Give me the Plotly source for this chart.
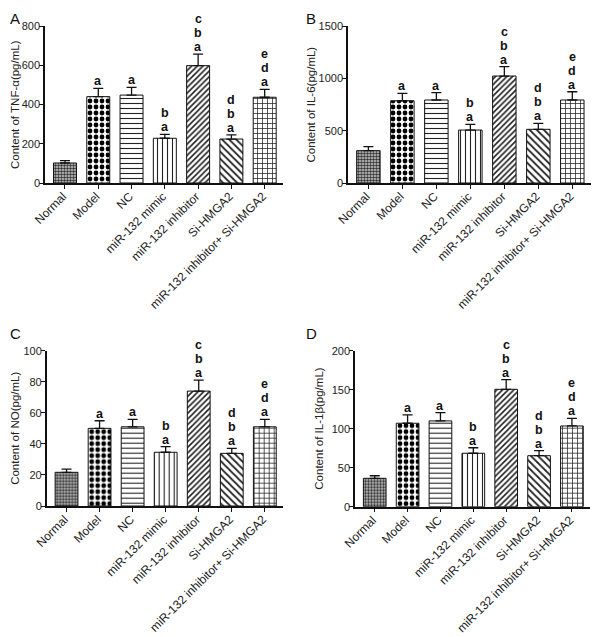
import plotly.graph_objects as go

categories = ["Normal", "Model", "NC", "miR-132 mimic", "miR-132 inhibitor",
              "Si-HMGA2", "miR-132 inhibitor+ Si-HMGA2"]

tnf_mean = [102, 440, 448, 228, 598, 224, 437]
tnf_err = [114, 482, 487, 248, 657, 245, 477]
il6_mean = [309, 786, 793, 506, 1022, 513, 793]
il6_err = [347, 857, 863, 561, 1111, 570, 872]
no_mean = [21.7, 50, 51, 34.6, 74, 33.9, 51]
no_err = [23.8, 54.9, 55.8, 38.2, 81, 37.1, 55.8]
il1b_mean = [36.4, 107, 110, 68.5, 150.5, 65.4, 103.5]
il1b_err = [39.7, 117.6, 120.5, 75.6, 163, 71.8, 113.3]

sig_letters = [[], ["a"], ["a"], ["a", "b"], ["a", "b", "c"], ["a", "b", "d"], ["a", "d", "e"]]

panels = [
    ("A", tnf_mean, tnf_err, "Content of TNF-α(pg/mL)", [0, 800], 200),
    ("B", il6_mean, il6_err, "Content of IL-6(pg/mL)", [0, 1500], 500),
    ("C", no_mean, no_err, "Content of NO(pg/mL)", [0, 100], 20),
    ("D", il1b_mean, il1b_err, "Content of IL-1β(pg/mL)", [0, 200], 50),
]

W, H = 600, 637
OFF = 8  # default page body margin shifts the figure by this many pixels


def fx(x):
    return (x - OFF) / W


def fy(y):
    return 1 - (y - OFF) / H


# plot-area boxes in screen pixels (x0, x1, ytop, ybottom)
boxes = [(45, 283, 26, 183), (348, 591, 26, 183), (46.7, 283, 350.7, 506), (355, 590, 350.7, 506.7)]
# panel letters: (figure-px x of left edge, screen-y center or None for top)
letter_pos = [(0, None), (296, None), (0, 333), (296, 333)]
ytitle_fig_x = [7.5, 303, 7.5, 311]

pat_shape = [".", ".", "-", "|", "/", "\\", "+"]
pat_size = [3, 6, 5, 5, 4, 5, 5]
pat_solid = [0.55, 0.5, 0.22, 0.22, 0.4, 0.35, 0.28]
pat_fg = ["#333333", "#000000", "#222222", "#222222", "#222222", "#222222", "#222222"]
pat_bg = ["#cfcfcf", "#ffffff", "#ffffff", "#ffffff", "#ffffff", "#ffffff", "#ffffff"]

fig = go.Figure()
FONT = "Liberation Sans, Arial, sans-serif"

for i, (lab, mean, err, title, rng, dt) in enumerate(panels):
    xa = "x" if i == 0 else f"x{i+1}"
    ya = "y" if i == 0 else f"y{i+1}"
    x0, x1, yt, yb = boxes[i]
    up = [e - m for m, e in zip(mean, err)]
    fig.add_trace(go.Bar(
        x=categories, y=mean, xaxis=xa, yaxis=ya, width=0.69,
        marker=dict(color="white",
                    line=dict(color="#111", width=1),
                    pattern=dict(shape=pat_shape, size=pat_size, solidity=pat_solid,
                                 fgcolor=pat_fg, bgcolor=pat_bg, fillmode="replace")),
        error_y=dict(type="data", symmetric=False, array=up,
                     arrayminus=[0] * 7, color="#111", thickness=1.3, width=5),
        showlegend=False, hoverinfo="skip"))
    key = "" if i == 0 else str(i + 1)
    fig.layout["xaxis" + key] = dict(
        domain=[fx(x0), fx(x1)], anchor=ya, range=[-0.6, 6.55], automargin=False,
        showline=True, linecolor="#111", linewidth=1.5, ticks="outside",
        ticklen=4, tickcolor="#111", tickangle=-45, showgrid=False,
        ticklabelstandoff=-4, ticklabelshift=-2,
        tickfont=dict(family=FONT, size=12, color="#222"), zeroline=False,
        categoryorder="array", categoryarray=categories)
    fig.layout["yaxis" + key] = dict(
        domain=[fy(yb), fy(yt)], anchor=xa, range=rng, dtick=dt, automargin=False,
        showline=True, linecolor="#111", linewidth=1.5, ticks="outside",
        ticklen=4, tickcolor="#111", showgrid=False, zeroline=False,
        ticklabelstandoff=-3,
        tickfont=dict(family=FONT, size=11, color="#222"))
    # y-axis title
    fig.add_annotation(x=ytitle_fig_x[i] / W, y=fy((yt + yb) / 2), xref="paper", yref="paper",
                       text=title, textangle=-90, showarrow=False,
                       xanchor="center", yanchor="middle",
                       font=dict(family=FONT, size=11.5, color="#222"))
    # significance letters
    for j, lets in enumerate(sig_letters):
        for k, L in enumerate(lets):
            fig.add_annotation(x=categories[j], y=err[j], xref=xa, yref=ya,
                               text=f"<b>{L}</b>", showarrow=False,
                               yanchor="bottom", yshift=-2 + 14 * k,
                               font=dict(family=FONT, size=12.5, color="#111"))
    lx, ly = letter_pos[i]
    if ly is None:
        fig.add_annotation(x=lx / W, y=1, xref="paper", yref="paper",
                           text=lab, showarrow=False, xanchor="left", yanchor="top",
                           font=dict(family=FONT, size=15, color="#111"))
    else:
        fig.add_annotation(x=lx / W, y=fy(ly), xref="paper", yref="paper",
                           text=lab, showarrow=False, xanchor="left", yanchor="middle",
                           font=dict(family=FONT, size=15, color="#111"))

fig.update_layout(width=W, height=H, margin=dict(l=0, r=0, t=0, b=0, autoexpand=False),
                  plot_bgcolor="white", paper_bgcolor="white", bargap=0.3)
fig.write_html("out.html")
